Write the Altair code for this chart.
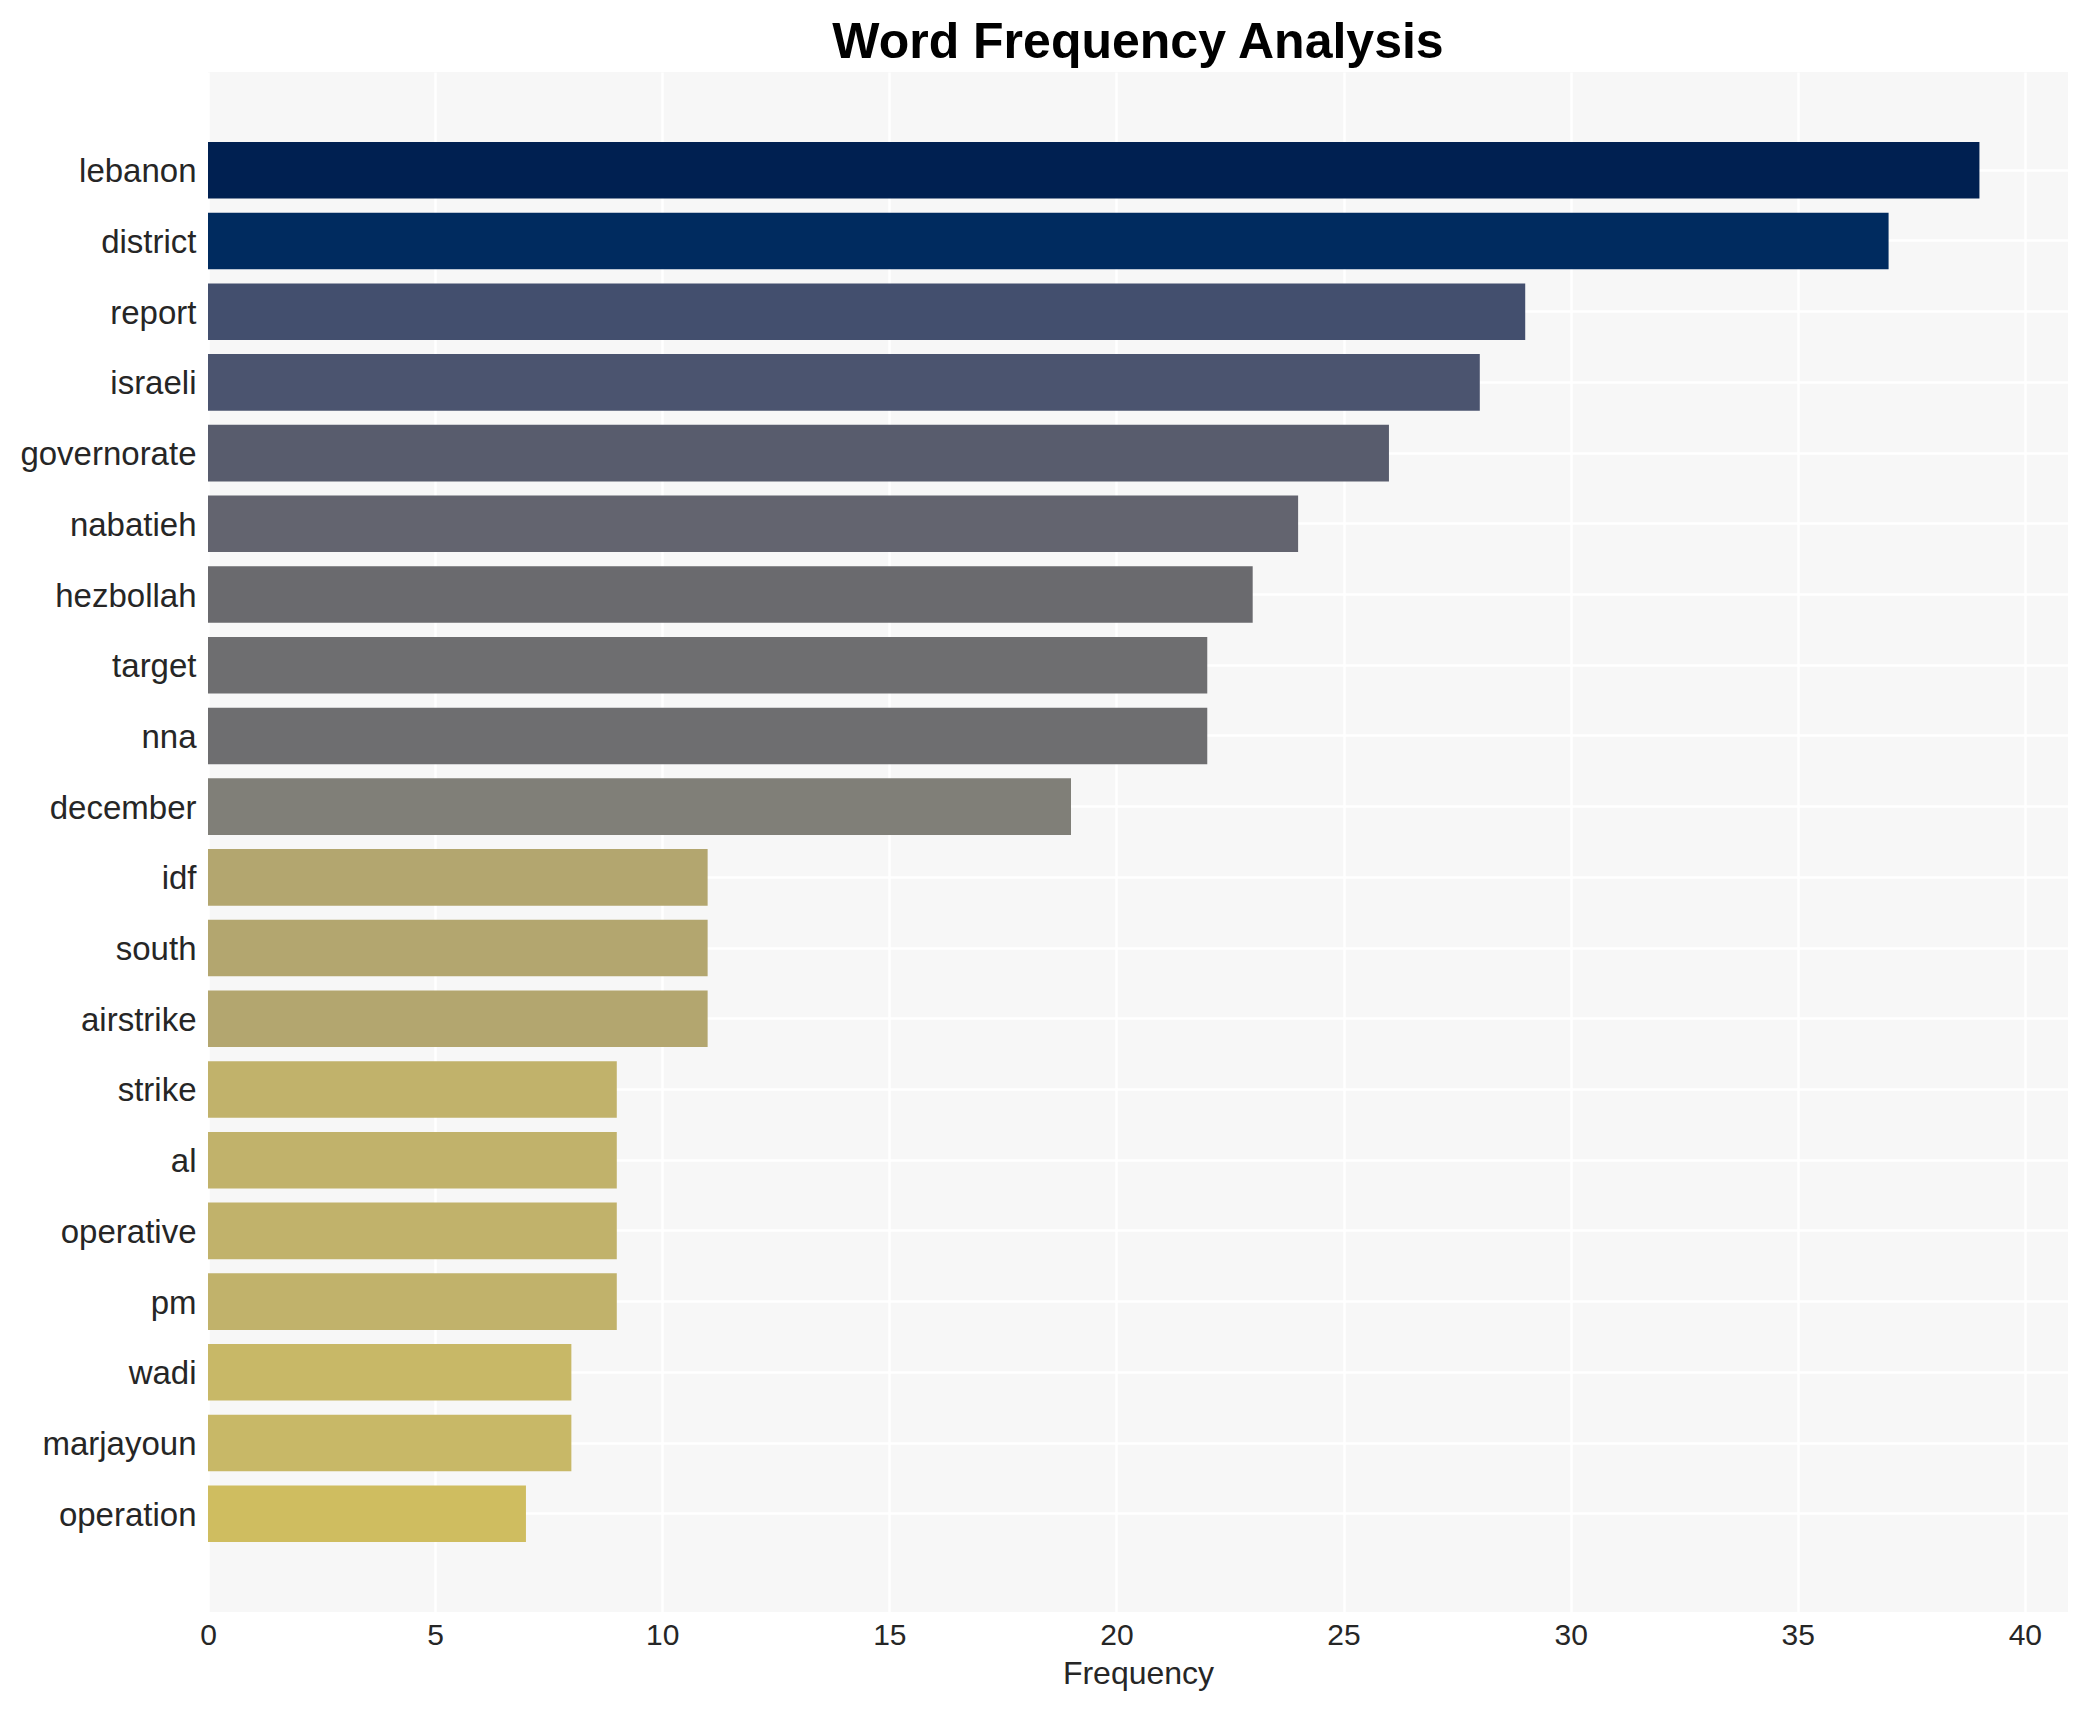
import altair as alt
import pandas as pd

words = ["lebanon", "district", "report", "israeli", "governorate", "nabatieh",
         "hezbollah", "target", "nna", "december", "idf", "south", "airstrike",
         "strike", "al", "operative", "pm", "wadi", "marjayoun", "operation"]
counts = [39, 37, 29, 28, 26, 24, 23, 22, 22, 19, 11, 11, 11, 9, 9, 9, 9, 8, 8, 7]
x_ticks = [0, 5, 10, 15, 20, 25, 30, 35, 40]

# colour ramp (cividis-like) keyed by frequency value
color_stops = [7, 8, 9, 11, 19, 22, 23, 24, 26, 28, 29, 37, 39]
color_values = ["#cfbd60", "#c8b867", "#c1b26b", "#b3a66f", "#807f78", "#6e6e70",
                "#6a6a6e", "#63646f", "#585c6d", "#4b546f", "#434f6e", "#002b5f",
                "#002051"]

df = pd.DataFrame({"word": words, "count": counts})

FONT = "Liberation Sans"

chart = alt.Chart(df).mark_bar().encode(
    y=alt.Y("word:N", sort=words, title=None,
            scale=alt.Scale(paddingInner=0.2, paddingOuter=0.99),
            axis=alt.Axis(grid=True, gridColor="white", gridWidth=2.5,
                          ticks=False, domain=False, labelPadding=12, labelOffset=2,
                          labelFontSize=33, labelFont=FONT, labelColor="#262626")),
    x=alt.X("count:Q", title="Frequency",
            scale=alt.Scale(domain=[0, 40.95], nice=False),
            axis=alt.Axis(values=x_ticks, grid=True, gridColor="white", gridWidth=2.5,
                          ticks=False, domain=False, labelPadding=8, labelFlush=False,
                          labelFontSize=30, labelFont=FONT, labelColor="#262626",
                          titleFontSize=32, titleFont=FONT, titleFontWeight="normal",
                          titleColor="#262626", titlePadding=8)),
    color=alt.Color("count:Q", legend=None,
                    scale=alt.Scale(domain=color_stops, range=color_values,
                                    interpolate="rgb")),
).properties(
    width=1860,
    height=1540,
    title=alt.TitleParams("Word Frequency Analysis", font=FONT, fontSize=50,
                          fontWeight="bold", color="black", anchor="middle",
                          offset=4),
    padding={"left": 200, "top": 64, "right": 11, "bottom": 90},
    autosize=alt.AutoSizeParams(type="none"),
).configure_view(fill="#f7f7f7", stroke=None)

chart.save("out.html", embed_options={"renderer": "svg", "actions": False})
